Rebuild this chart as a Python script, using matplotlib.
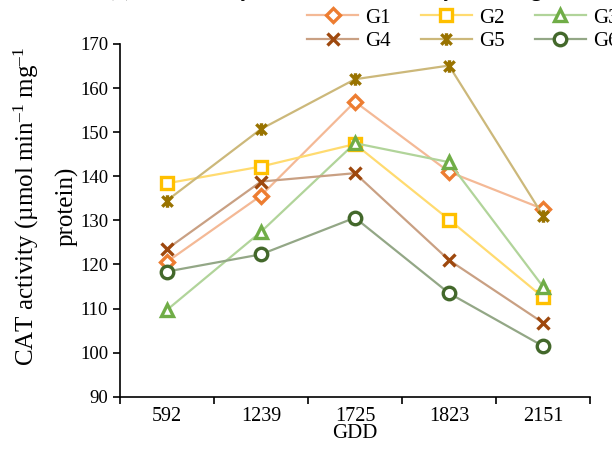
import numpy as np
import matplotlib
matplotlib.use("Agg")
import matplotlib.pyplot as plt
from matplotlib.path import Path

plt.rcParams["font.family"] = ["Liberation Serif", "DejaVu Serif"]
plt.rcParams["mathtext.fontset"] = "custom"
plt.rcParams["mathtext.rm"] = "Liberation Serif"
plt.rcParams["mathtext.it"] = "Liberation Serif:italic"

# ── Data ────────────────────────────────────────────
gdd = ["592", "1239", "1725", "1823", "2151"]
g1 = [120.6, 135.6, 156.9, 141.0, 132.6]
g2 = [138.4, 142.2, 147.3, 130.2, 112.6]
g3 = [109.7, 127.4, 147.5, 143.2, 115.0]
g4 = [123.5, 138.8, 140.7, 121.0, 106.8]
g5 = [134.5, 150.7, 162.0, 165.1, 131.1]
g6 = [118.4, 122.3, 130.6, 113.5, 101.5]
names = ["G1", "G2", "G3", "G4", "G5", "G6"]

# star marker: x plus vertical bar (Excel style)
star = Path([(-1, -1), (1, 1), (-1, 1), (1, -1), (0, -1.2), (0, 1.2)],
            [Path.MOVETO, Path.LINETO, Path.MOVETO, Path.LINETO,
             Path.MOVETO, Path.LINETO])

styles = [
    # marker, marker colour, line colour, filled, size
    ("D", "#ED7D31", "#F4B996", False, 7),
    ("s", "#FFC000", "#FFDB70", False, 8),
    ("^", "#70AD47", "#B1D49A", False, 9),
    ("x", "#9E480E", "#C9A083", True, 9),
    (star, "#997300", "#CCB87A", True, 9),
    ("o", "#43682B", "#93A786", False, 9),
]

fig = plt.figure(figsize=(6.12, 4.53), dpi=100)
ax = fig.add_axes([0.196, 0.124, 0.768, 0.779])
x = np.arange(len(gdd))

handles = []
for name, vals, (mk, mc, lc, filled, ms) in zip(names, [g1, g2, g3, g4, g5, g6], styles):
    h, = ax.plot(x, vals, color=lc, linewidth=1.6, marker=mk, markersize=ms,
                 markeredgecolor=mc, markerfacecolor=(mc if filled else "white"),
                 markeredgewidth=2.4, label=name, zorder=3)
    handles.append(h)

ax.set_xlim(-0.5, 4.5)
ax.set_ylim(90, 170)
ax.set_yticks(np.arange(90, 171, 10))
ax.set_xticks(x)
ax.set_xticklabels(gdd)
ax.set_xticks(np.arange(-0.5, 4.6, 1), minor=True)
ax.tick_params(axis="x", which="major", length=0, pad=7, labelsize=14.5)
ax.tick_params(axis="x", which="minor", length=5, width=1.2, direction="out")
ax.tick_params(axis="y", length=5, width=1.2, direction="out", labelsize=13.5)
for s in ["top", "right"]:
    ax.spines[s].set_visible(False)
for s in ["left", "bottom"]:
    ax.spines[s].set_linewidth(1.2)

ax.set_xlabel("GDD", fontsize=15, labelpad=-1)
ax.set_ylabel("CAT activity (µmol min$^{–1}$ mg$^{–1}$\nprotein)",
              fontsize=18, linespacing=1.8)
ax.yaxis.set_label_coords(-0.088, 0.54)

fig.text(0.53, 1.02, "(b) CAT activity of G1–G6 under delayed sowing",
         ha="center", va="center", fontsize=15, fontweight="bold")

# legend is filled column by column, so reorder to read G1 G2 G3 / G4 G5 G6
order = [0, 3, 1, 4, 2, 5]
fig.legend([handles[i] for i in order], [names[i] for i in order],
           loc="upper left", bbox_to_anchor=(307 / 612, 1 - 8 / 453), ncol=3,
           frameon=False, fontsize=15, handlelength=2.45, columnspacing=1.45,
           handletextpad=0.34, labelspacing=0.2, borderpad=0, borderaxespad=0)

fig.savefig("out.png", dpi=100)
